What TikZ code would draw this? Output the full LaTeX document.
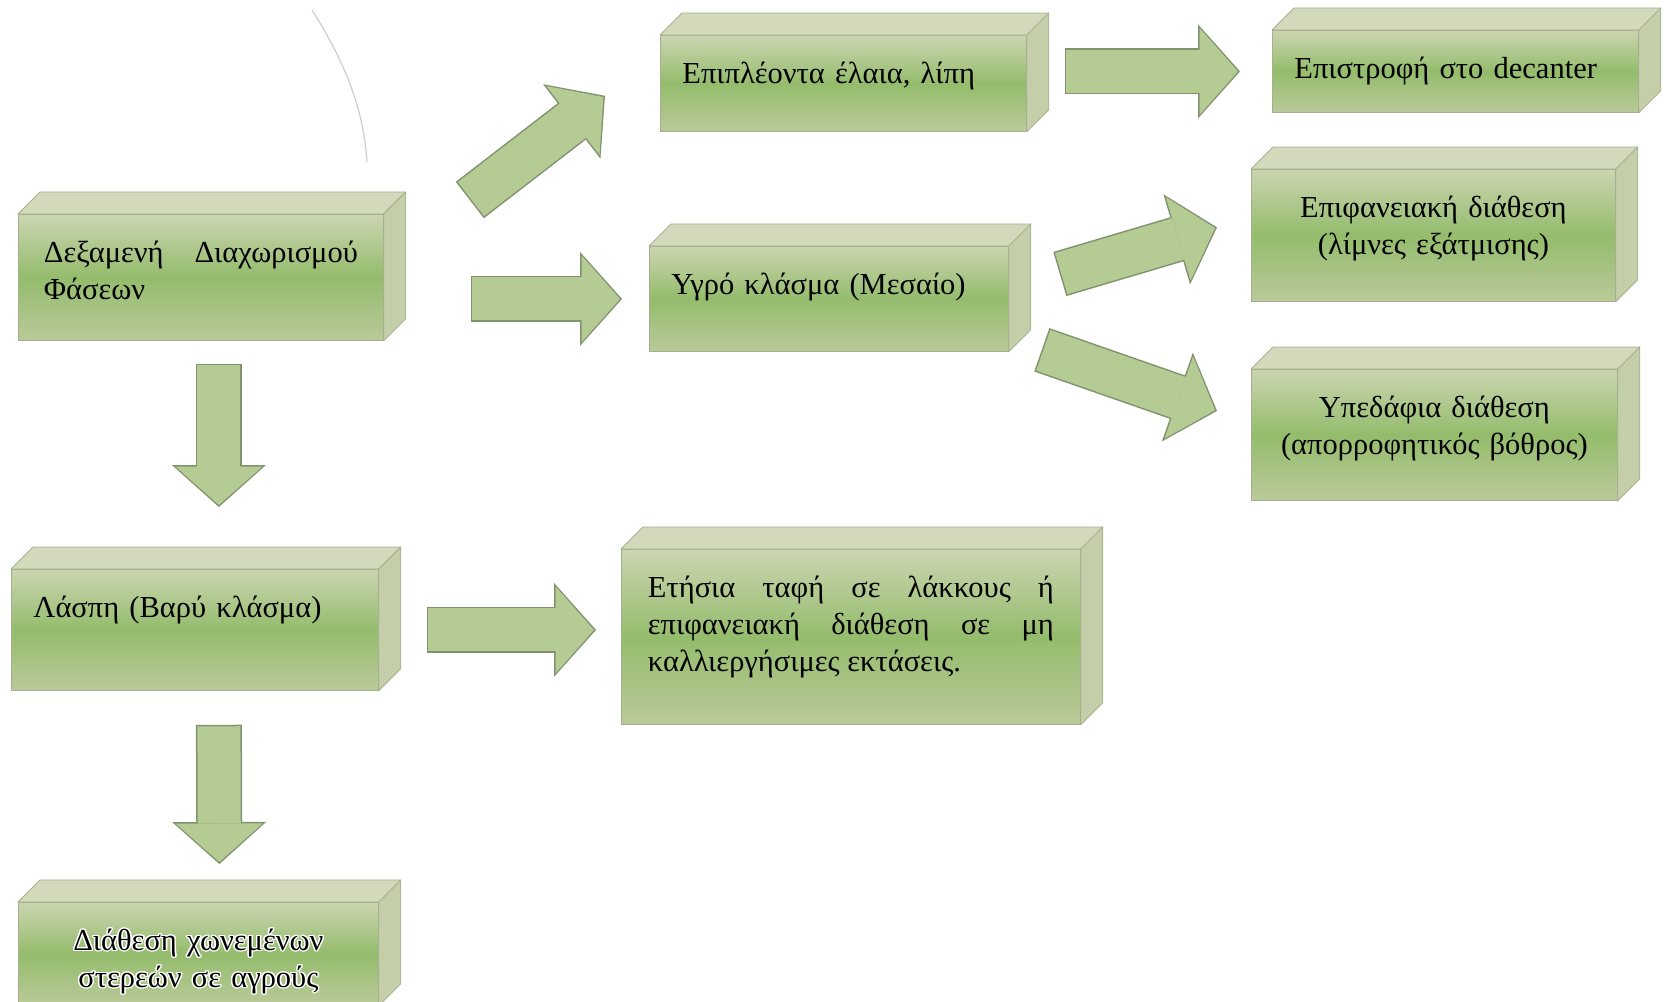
\documentclass[tikz,border=0pt]{standalone}
\usepackage{fontspec}
\setmainfont{Liberation Serif}
\usepackage[copies]{contour}
\usepackage{tikz}
\usetikzlibrary{arrows.meta,calc}

\definecolor{boxpale}{RGB}{203,213,177}
\definecolor{boxgreen}{RGB}{148,188,108}
\definecolor{boxlow}{RGB}{186,202,154}
\definecolor{facetop}{RGB}{211,218,188}
\definecolor{faceside}{RGB}{196,206,168}
\definecolor{boxedge}{RGB}{165,175,143}
\definecolor{arrowfill}{RGB}{180,203,148}
\definecolor{arrowedge}{RGB}{128,146,110}
\definecolor{arcgray}{RGB}{205,205,205}
\contourlength{1.4pt}

\begin{document}
\begin{tikzpicture}[
    x=1pt, y=-1pt,
    box/.style={rectangle, anchor=north west, draw=boxedge, line width=0.8pt, top color=boxpale, bottom color=boxlow, middle color=boxgreen, inner xsep=22pt, inner ysep=0pt, text height=48pt, font=\fontsize{30.5}{37}\selectfont},
    topface/.style={fill=facetop, draw=boxedge, line width=0.8pt, line join=round},
    sideface/.style={fill=faceside, draw=boxedge, line width=0.8pt, line join=round},
    bigarrow/.style={draw=arrowedge, line width=46pt, -{Triangle[length=42pt, width=94pt, line width=0pt]}, postaction={draw=arrowfill, line width=43pt, shorten <=1.5pt, shorten >=2pt, -{Triangle[length=38.5pt, width=87pt, line width=0pt]}}}
]
    \clip (0,0) rectangle (1669,1001);

    \node [box, text width=314pt, inner xsep=25.5pt, text depth=78pt, align=justify] (tank) at (18,214) {Δεξαμενή Διαχωρισμού\linebreak Φάσεων};
    \node [box, text width=322pt, text depth=48pt, align=left] (oil) at (660,35) {Επιπλέοντα έλαια, λίπη};
    \node [box, text width=322pt, text depth=34pt, align=left] (back) at (1272,30) {Επιστροφή στο decanter};
    \node [box, text width=315pt, text depth=57pt, align=left] (liquid) at (649,246) {Υγρό κλάσμα (Μεσαίο)};
    \node [box, text width=320pt, text depth=84pt, align=center] (surface) at (1251,169) {Επιφανειακή διάθεση\\(λίμνες εξάτμισης)};
    \node [box, text width=322pt, text depth=83pt, align=center] (subsurface) at (1251,369) {Υπεδάφια διάθεση\\(απορροφητικός βόθρος)};
    \node [box, text width=323pt, text depth=73pt, align=left] (sludge) at (11,569) {Λάσπη (Βαρύ κλάσμα)};
    \node [box, text width=406pt, inner xsep=26.5pt, text depth=127pt, align=justify] (burial) at (621,549) {Ετήσια ταφή σε λάκκους ή\linebreak επιφανειακή διάθεση σε μη\linebreak καλλιεργήσιμες εκτάσεις.};
    \node [box, text width=316pt, text depth=55pt, align=center] (fields) at (18,902) {\contour{white}{Διάθεση χωνεμένων}\\\contour{white}{στερεών σε αγρούς}};

    \foreach \b in {tank,oil,back,liquid,surface,subsurface,sludge,burial,fields} {
        \filldraw [topface] (\b.north west) -- ++(22,-22) -- ($(\b.north east)+(22,-22)$) -- (\b.north east) -- cycle;
        \filldraw [sideface] (\b.north east) -- ++(22,-22) -- ($(\b.south east)+(22,-22)$) -- (\b.south east) -- cycle;
    }

    \draw [bigarrow] ($(tank.north east)+(86,-14)$) -- ($(oil.south west)+(-55,-36)$);
    \draw [bigarrow] ($(tank.east |- liquid.west)+(87,0)$) -- ($(liquid.west)+(-27,0)$);
    \draw [bigarrow] ($(oil.east |- back.west)+(38,0)$) -- ($(back.west)+(-32,0)$);
    \draw [bigarrow] ($(liquid.north east)+(51,28)$) -- ($(surface.west)+(-34,-8)$);
    \draw [bigarrow] ($(liquid.south east)+(33,-2)$) -- ($(subsurface.west)+(-34,-24)$);
    \draw [bigarrow] ($(tank.south)+(18,23)$) -- ($(sludge.north)+(24,-62)$);
    \draw [bigarrow] ($(sludge.east |- burial.west)+(48,-7)$) -- ($(burial.west)+(-25,-7)$);
    \draw [bigarrow] ($(sludge.south)+(24,34)$) -- ($(fields.north)+(21,-38)$);

    \draw [arcgray, line width=1.2pt] (312,10) .. controls (345,62) and (364,110) .. (367,162);
\end{tikzpicture}
\end{document}
